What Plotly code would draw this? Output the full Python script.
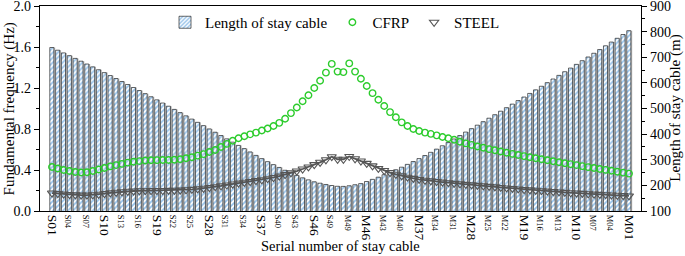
import plotly.graph_objects as go

# ---------------- data ----------------
cables = [f"S{i:02d}" for i in range(1, 51)] + [f"M{i:02d}" for i in range(50, 0, -1)]

length_m = [
    738, 727.5, 717, 706.3, 695.5, 684.6, 673.6, 662.5, 651.3, 640,
    628.6, 617, 605.4, 593.7, 581.9, 570, 558, 545.9, 533.7, 521.4,
    509, 496.5, 484, 471.4, 458.7, 446, 433.2, 420.3, 407.4, 394.5,
    381.6, 368.7, 356, 343.5, 330.5, 317, 304.5, 292.5, 281, 270,
    259, 249, 239, 229.5, 221.5, 214, 208.5, 203.5, 199.5, 196.5,
    196, 198.5, 202.5, 207, 215, 223.5, 232, 241.5, 251, 261,
    271, 282, 293, 304.5, 316.5, 329, 341.5, 354.5, 367.5, 381,
    394.5, 408, 421.5, 435, 448.6, 462.2, 475.8, 489.5, 503.3, 517.1,
    530.9, 544.8, 558.8, 572.8, 586.8, 600.9, 615.1, 629.3, 643.5, 657.8,
    672.2, 686.6, 701, 715.5, 730.1, 744.7, 759.3, 774, 788.8, 803.6,
]

cfrp_hz = [
    0.43, 0.415, 0.40, 0.39, 0.38, 0.375, 0.378, 0.39, 0.405, 0.42,
    0.435, 0.448, 0.46, 0.472, 0.48, 0.487, 0.492, 0.495, 0.496, 0.497,
    0.498, 0.50, 0.505, 0.515, 0.525, 0.54, 0.555, 0.575, 0.595, 0.625,
    0.655, 0.685, 0.71, 0.73, 0.748, 0.765, 0.785, 0.805, 0.83, 0.86,
    0.90, 0.955, 1.01, 1.07, 1.13, 1.20, 1.27, 1.35, 1.435, 1.36,
    1.355, 1.44, 1.36, 1.29, 1.22, 1.15, 1.085, 1.025, 0.965, 0.915,
    0.865, 0.83, 0.80, 0.78, 0.765, 0.752, 0.738, 0.722, 0.71, 0.695,
    0.675, 0.66, 0.645, 0.63, 0.617, 0.604, 0.592, 0.58, 0.568, 0.557,
    0.546, 0.535, 0.525, 0.515, 0.505, 0.495, 0.485, 0.475, 0.466, 0.457,
    0.448, 0.438, 0.428, 0.419, 0.41, 0.401, 0.392, 0.383, 0.374, 0.365,
]

steel_hz = [
    0.175, 0.17, 0.165, 0.16, 0.157, 0.155, 0.155, 0.158, 0.163, 0.17,
    0.177, 0.183, 0.188, 0.192, 0.195, 0.197, 0.198, 0.199, 0.2, 0.2,
    0.201, 0.202, 0.204, 0.207, 0.211, 0.216, 0.222, 0.229, 0.237, 0.245,
    0.254, 0.263, 0.272, 0.28, 0.288, 0.296, 0.305, 0.315, 0.327, 0.34,
    0.355, 0.372, 0.39, 0.41, 0.43, 0.452, 0.475, 0.50, 0.53, 0.505,
    0.505, 0.532, 0.51, 0.488, 0.465, 0.44, 0.415, 0.395, 0.375, 0.358,
    0.343, 0.33, 0.318, 0.308, 0.30, 0.294, 0.288, 0.282, 0.276, 0.27,
    0.265, 0.26, 0.255, 0.25, 0.245, 0.24, 0.235, 0.23, 0.225, 0.22,
    0.215, 0.21, 0.206, 0.202, 0.198, 0.194, 0.19, 0.186, 0.182, 0.178,
    0.175, 0.172, 0.168, 0.165, 0.162, 0.159, 0.156, 0.153, 0.15, 0.147,
]

# ---------------- figure ----------------
FONT = '"Liberation Serif", "Times New Roman", serif'
xs = list(range(len(cables)))
tick_idx = list(range(0, len(cables), 3))
tick_txt = []
for i in tick_idx:
    if i % 9 == 0:
        tick_txt.append(f'<span style="font-size:13.5px">{cables[i]}</span>')
    else:
        tick_txt.append(f'<span style="font-size:8.5px">{cables[i]}</span>')

fig = go.Figure()

# bar shadow
fig.add_trace(go.Bar(
    x=xs, y=length_m, yaxis="y", width=0.7, offset=-0.15,
    marker=dict(color="#b8b8b8", line=dict(width=0)),
    showlegend=False, hoverinfo="skip",
))
# main bars
fig.add_trace(go.Bar(
    x=xs, y=length_m, yaxis="y", name="Length of stay cable",
    width=0.7, offset=-0.38,
    marker=dict(color="white",
                line=dict(color="#1a1a1a", width=0.65),
                pattern=dict(shape="/", fgcolor="#2f86d4", bgcolor="white",
                             size=3.5, solidity=0.5)),
))
fig.add_trace(go.Scatter(
    x=xs, y=cfrp_hz, yaxis="y2", name="CFRP", mode="markers",
    marker=dict(symbol="circle-open", size=6.5, color="#2ccc2c",
                line=dict(width=1.4, color="#2ccc2c")),
))
# steel connecting line
fig.add_trace(go.Scatter(
    x=xs, y=steel_hz, yaxis="y2", mode="lines", showlegend=False,
    line=dict(color="#555555", width=1.8), hoverinfo="skip",
))
fig.add_trace(go.Scatter(
    x=xs, y=steel_hz, yaxis="y2", name="STEEL", mode="markers",
    marker=dict(symbol="triangle-down-open", size=8, color="#555555",
                line=dict(width=1.1, color="#555555")),
))

fig.update_layout(
    width=685, height=256,
    margin=dict(l=40, r=44, t=6, b=45, autoexpand=False),
    paper_bgcolor="white", plot_bgcolor="white",
    font=dict(family=FONT, size=14, color="black"),
    barmode="overlay",
    showlegend=True,
    legend=dict(orientation="h", x=0.208, y=1.0, xanchor="left", yanchor="top",
                bgcolor="rgba(0,0,0,0)", font=dict(family=FONT, size=15),
                itemwidth=30, traceorder="normal"),
    xaxis=dict(
        range=[-2.06, 101.06], tickmode="array", tickvals=tick_idx, ticktext=tick_txt,
        tickangle=90, showgrid=False, zeroline=False, automargin=False,
        showline=True, linecolor="black", linewidth=1.2, mirror=True,
        ticks="", tickfont=dict(family=FONT, size=13.5, color="black"),
    ),
    yaxis=dict(
        side="right", range=[100, 900], dtick=100, tick0=100,
        showgrid=False, zeroline=False, ticklabeloverflow="allow", automargin=False,
        showline=True, linecolor="black", linewidth=1.2,
        ticks="outside", ticklen=5, tickwidth=1.2, tickcolor="black",
        minor=dict(ticks="outside", ticklen=3, dtick=50, tickcolor="black", tickwidth=1),
        tickfont=dict(family=FONT, size=14),
    ),
    yaxis2=dict(
        side="left", overlaying="y", range=[0, 2.0], dtick=0.4, tick0=0,
        tickformat=".1f", ticklabeloverflow="allow", automargin=False,
        showgrid=False, zeroline=False,
        showline=True, linecolor="black", linewidth=1.2,
        ticks="outside", ticklen=5, tickwidth=1.2, tickcolor="black",
        minor=dict(ticks="outside", ticklen=3, dtick=0.2, tickcolor="black", tickwidth=1),
        tickfont=dict(family=FONT, size=14),
    ),
    annotations=[
        dict(text="Serial number of stay cable", xref="paper", yref="paper",
             x=0.5, y=-0.172, xanchor="center", yanchor="middle", showarrow=False,
             font=dict(family=FONT, size=14.5)),
        dict(text="Fundamental frequency (Hz)", xref="paper", yref="paper",
             x=-0.05, y=0.5, xanchor="center", yanchor="middle", showarrow=False,
             textangle=-90, font=dict(family=FONT, size=15)),
        dict(text="Length of stay cable (m)", xref="paper", yref="paper",
             x=1.057, y=0.5, xanchor="center", yanchor="middle", showarrow=False,
             textangle=-90, font=dict(family=FONT, size=15)),
    ],
)

fig.write_html("out.html", config={"displayModeBar": False},
               post_script="document.body.style.margin='0';")
